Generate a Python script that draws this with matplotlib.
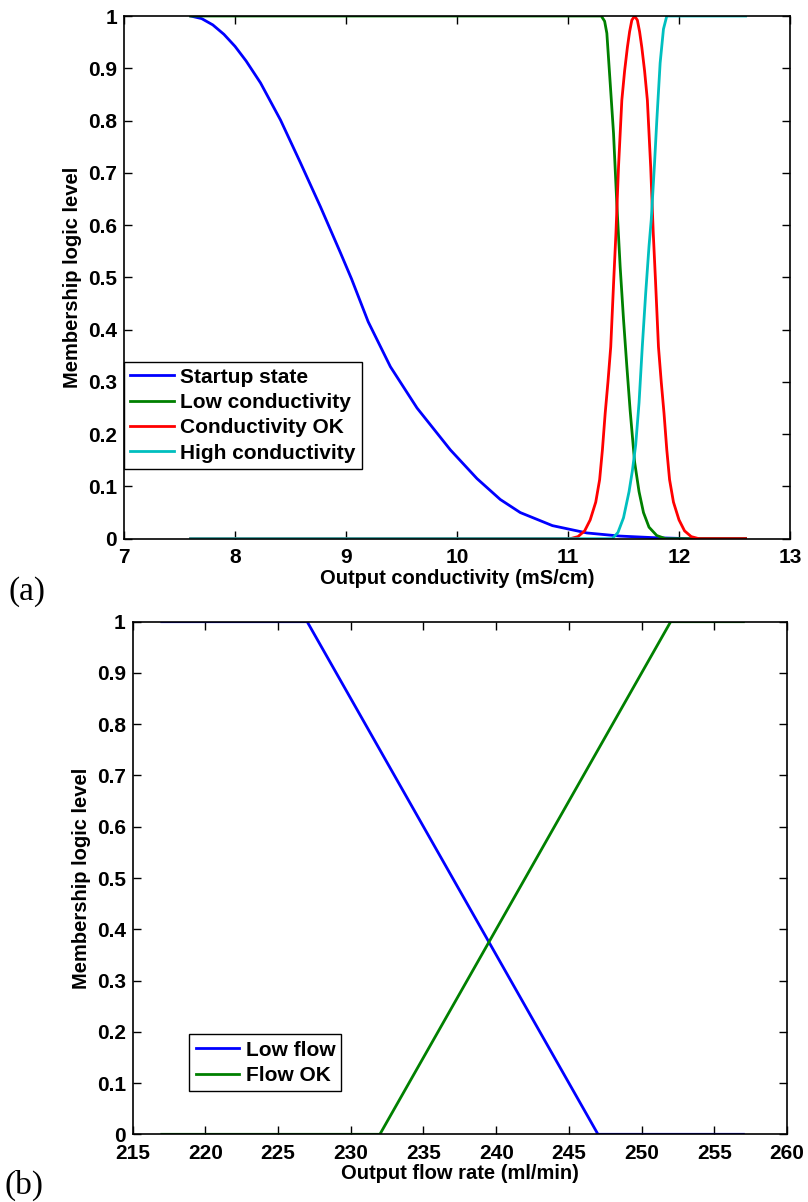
#!/usr/bin/env python3

import matplotlib
matplotlib.use('Agg')
from matplotlib import pyplot


#
# Data
#

# (a) conductivity membership functions
startup_x = [7.60, 7.70, 7.80, 7.90, 8.00, 8.10, 8.23, 8.41, 8.59, 8.77, 8.95, 9.05,
             9.20, 9.40, 9.64, 9.94, 10.18, 10.39, 10.57, 10.86, 11.17, 11.47, 11.77,
             12.10, 12.60]
startup_y = [1.000, 0.995, 0.983, 0.965, 0.942, 0.914, 0.872, 0.801, 0.719, 0.635, 0.547, 0.497,
             0.415, 0.329, 0.250, 0.170, 0.115, 0.075, 0.050, 0.025, 0.011, 0.005, 0.002,
             0.000, 0.000]

low_x = [7.60, 11.30, 11.33, 11.35, 11.38, 11.41, 11.44, 11.47, 11.50, 11.53, 11.56,
         11.60, 11.64, 11.68, 11.73, 11.80, 11.88, 12.60]
low_y = [1.000, 1.000, 0.990, 0.967, 0.872, 0.776, 0.640, 0.520, 0.420, 0.330, 0.245,
         0.147, 0.090, 0.050, 0.022, 0.006, 0.000, 0.000]

ok_x = [7.60, 11.02, 11.09, 11.15, 11.20, 11.25, 11.285, 11.31, 11.335, 11.36, 11.385,
        11.412, 11.432, 11.455, 11.485, 11.51, 11.535, 11.555, 11.575, 11.60, 11.625,
        11.645, 11.665, 11.69, 11.715, 11.745, 11.768, 11.788, 11.815, 11.84, 11.865,
        11.89, 11.915, 11.95, 12.00, 12.05, 12.11, 12.18, 12.60]
ok_y = [0.000, 0.000, 0.004, 0.015, 0.036, 0.070, 0.113, 0.170, 0.240, 0.300, 0.367,
        0.495, 0.585, 0.711, 0.839, 0.895, 0.940, 0.970, 0.992, 1.000, 0.992,
        0.970, 0.940, 0.895, 0.839, 0.711, 0.585, 0.495, 0.367, 0.300, 0.240,
        0.170, 0.113, 0.070, 0.036, 0.015, 0.004, 0.000, 0.000]

high_x = [7.60, 11.40, 11.45, 11.50, 11.55, 11.58, 11.61, 11.64, 11.67, 11.70, 11.73,
          11.75, 11.78, 11.80, 11.83, 11.86, 11.89, 12.60]
high_y = [0.000, 0.000, 0.012, 0.040, 0.090, 0.130, 0.180, 0.260, 0.370, 0.470, 0.560,
          0.610, 0.720, 0.800, 0.910, 0.975, 1.000, 1.000]

cond_labels = ["Startup state", "Low conductivity", "Conductivity OK", "High conductivity"]
cond_ticks_x = [7, 8, 9, 10, 11, 12, 13]

# (b) flow membership functions
lowflow_x = [217, 227, 247, 257]
lowflow_y = [1, 1, 0, 0]
flowok_x = [217, 232, 252, 257]
flowok_y = [0, 0, 1, 1]

flow_labels = ["Low flow", "Flow OK"]
flow_ticks_x = [215, 220, 225, 230, 235, 240, 245, 250, 255, 260]

y_ticks = [0, 0.1, 0.2, 0.3, 0.4, 0.5, 0.6, 0.7, 0.8, 0.9, 1]
y_ticklabels = ["0", "0.1", "0.2", "0.3", "0.4", "0.5", "0.6", "0.7", "0.8", "0.9", "1"]

# old matlab line colours
BLUE = (0, 0, 1)
GREEN = (0, 0.5, 0)
RED = (1, 0, 0)
CYAN = (0, 0.75, 0.75)

FONT = "Liberation Sans"
FS_TICK = 15
FS_LABEL = 14.5
FS_LEG = 15
LW = 2.0

pyplot.rcParams['font.family'] = [FONT, 'DejaVu Sans']
pyplot.rcParams['font.weight'] = 'bold'


def style_axes(ax):
	for sp in ax.spines.values():
		sp.set_linewidth(1.2)
		sp.set_color("black")
	ax.tick_params(direction="in", length=6, width=1.0, top=True, right=True,
	               labelsize=FS_TICK)
	ax.tick_params(axis="x", pad=7)
	ax.tick_params(axis="y", pad=5)
	for lab in ax.get_xticklabels() + ax.get_yticklabels():
		lab.set_fontweight("bold")


def add_legend(ax, anchor):
	leg = ax.legend(loc="upper left", bbox_to_anchor=anchor, fontsize=FS_LEG,
	                frameon=True, fancybox=False, shadow=False, borderaxespad=0,
	                handlelength=2.1, handletextpad=0.3, labelspacing=0.3,
	                borderpad=0.3)
	leg.get_frame().set_edgecolor("black")
	leg.get_frame().set_linewidth(1.0)
	leg.get_frame().set_alpha(1)
	return leg


W, H = 808, 1202
fig = pyplot.figure(figsize=(W / 100, H / 100), dpi=100)

# top panel, pixel box 124..790 x 16..539
ax = fig.add_axes([124 / W, 1 - 538.7 / H, (790 - 124) / W, 522.7 / H])
ax.plot(startup_x, startup_y, color=BLUE, lw=LW, label=cond_labels[0])
ax.plot(low_x, low_y, color=GREEN, lw=LW, label=cond_labels[1])
ax.plot(ok_x, ok_y, color=RED, lw=LW, label=cond_labels[2])
ax.plot(high_x, high_y, color=CYAN, lw=LW, label=cond_labels[3])
ax.set_xlim(7, 13)
ax.set_ylim(0, 1)
ax.set_xticks(cond_ticks_x)
ax.set_yticks(y_ticks)
ax.set_yticklabels(y_ticklabels)
ax.set_xlabel("Output conductivity (mS/cm)", fontsize=FS_LABEL, fontweight="bold", labelpad=1)
ax.set_ylabel("Membership logic level", fontsize=FS_LABEL, fontweight="bold", labelpad=4)
style_axes(ax)
add_legend(ax, (0.0, 0.339))

# bottom panel, pixel box 133..787 x 622..1134
ax2 = fig.add_axes([132.7 / W, 1 - 1134.3 / H, (787 - 132.7) / W, 512.6 / H])
ax2.plot(lowflow_x, lowflow_y, color=BLUE, lw=LW, label=flow_labels[0])
ax2.plot(flowok_x, flowok_y, color=GREEN, lw=LW, label=flow_labels[1])
ax2.set_xlim(215, 260)
ax2.set_ylim(0, 1)
ax2.set_xticks(flow_ticks_x)
ax2.set_yticks(y_ticks)
ax2.set_yticklabels(y_ticklabels)
ax2.set_xlabel("Output flow rate (ml/min)", fontsize=FS_LABEL, fontweight="bold", labelpad=1)
ax2.set_ylabel("Membership logic level", fontsize=FS_LABEL, fontweight="bold", labelpad=4)
style_axes(ax2)
add_legend(ax2, (0.0865, 0.195))

# panel letters
fig.text(9 / W, 1 - 592 / H, "(a)", fontsize=24, family="Liberation Serif",
         fontweight="normal", ha="left", va="center")
fig.text(5 / W, 1 - 1185 / H, "(b)", fontsize=24, family="Liberation Serif",
         fontweight="normal", ha="left", va="center")

fig.savefig("out.png", dpi=100)
